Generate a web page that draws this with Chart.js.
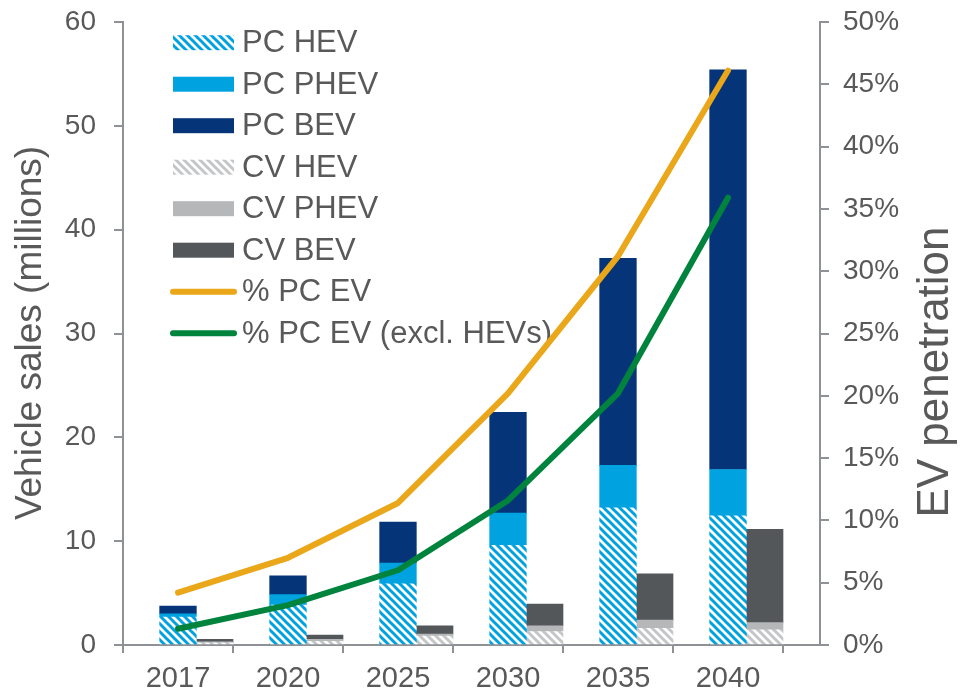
<!DOCTYPE html>
<html>
<head>
<meta charset="utf-8">
<script src="https://cdn.jsdelivr.net/npm/chart.js@4/dist/chart.umd.min.js"></script>
<style>
  body { margin: 0; background: #fff; }
</style>
</head>
<body>
<canvas id="evChart" width="961" height="696"></canvas>
<script>
// data
const years = ['2017', '2020', '2025', '2030', '2035', '2040'];
const pcHev  = [2.7, 3.85, 5.9, 9.6, 13.2, 12.45];
const pcPhev = [0.3, 1.0, 2.0, 3.1, 4.1, 4.45];
const pcBev  = [0.75, 1.8, 3.95, 9.7, 19.95, 38.5];
const cvHev  = [0.2, 0.35, 0.85, 1.3, 1.6, 1.45];
const cvPhev = [0.1, 0.2, 0.2, 0.55, 0.8, 0.7];
const cvBev  = [0.25, 0.4, 0.8, 2.1, 4.45, 9.0];
const pctPcEv     = [4.2, 7.0, 11.4, 20.2, 31.2, 46.1];
const pctPcEvExcl = [1.3, 3.2, 6.0, 11.6, 20.2, 35.9];
const spacer = [0, 0, 0, 0, 0, 0]; // empty stack so PC bars sit on the category centre

const textColor = '#595959';
const axisColor = '#8E9196';
const fontFamily = '"Liberation Sans", Arial, sans-serif';

// diagonal stripes for the HEV series
function hatch(color) {
    const c = document.createElement('canvas');
    c.width = 8;
    c.height = 8;
    const g = c.getContext('2d');
    g.fillStyle = '#fff';
    g.fillRect(0, 0, 8, 8);
    g.strokeStyle = color;
    g.lineWidth = 3;
    for (let k = -1; k <= 1; k++) {
        g.beginPath();
        g.moveTo(-1, k * 8 - 1);
        g.lineTo(9, k * 8 + 9);
        g.stroke();
    }
    return g.createPattern(c, 'repeat');
}

const ctx = document.getElementById('evChart').getContext('2d');

// x axis stops short of the right axis in the original
const shrinkX = {
    id: 'shrinkX',
    afterLayout(chart) {
        const x = chart.scales.x;
        x._length = (x.right - x.left) * 660 / 697;
        x._endPixel = x._startPixel + x._length;
    }
};

// legend down the left side and the two axis titles
const sideLegend = {
    id: 'sideLegend',
    beforeDatasetsDraw(chart) {
        const c = chart.ctx;
        c.save();
        c.font = '31px ' + fontFamily;
        c.textBaseline = 'middle';
        let i = 0;
        chart.data.datasets.forEach(ds => {
            if (!ds.label) return;
            const y = 42.7 + i * 41.5;
            if (ds.type === 'line') {
                c.strokeStyle = ds.borderColor;
                c.lineWidth = 6;
                c.lineCap = 'round';
                c.beginPath();
                c.moveTo(173, y);
                c.lineTo(234, y);
                c.stroke();
            } else {
                c.fillStyle = ds.backgroundColor;
                c.fillRect(173, y - 7.5, 61, 15);
            }
            c.fillStyle = textColor;
            c.fillText(ds.label, 242, y + 1);
            i++;
        });
        c.restore();
    },
    afterDraw(chart) {
        const c = chart.ctx;
        c.save();
        c.fillStyle = textColor;
        c.textAlign = 'center';
        c.textBaseline = 'middle';
        c.translate(31, 333);
        c.rotate(-Math.PI / 2);
        c.font = '37px ' + fontFamily;
        c.fillText('Vehicle sales (millions)', 0, 0);
        c.restore();
        c.save();
        c.fillStyle = textColor;
        c.textAlign = 'center';
        c.textBaseline = 'middle';
        c.translate(936, 372);
        c.rotate(-Math.PI / 2);
        c.font = '44px ' + fontFamily;
        c.fillText('EV penetration', 0, 0);
        c.restore();
    }
};

const barBase = { type: 'bar', yAxisID: 'y', order: 1, borderWidth: 0 };

function noPad(s) {
    s.paddingTop = 0;
    s.paddingBottom = 0;
}

new Chart(ctx, {
    data: {
        labels: years,
        datasets: [
            { ...barBase, label: '', data: spacer, stack: 'pad', backgroundColor: 'rgba(0,0,0,0)' },
            { ...barBase, label: 'PC HEV', data: pcHev, stack: 'pc', backgroundColor: hatch('#00A3E0') },
            { ...barBase, label: 'PC PHEV', data: pcPhev, stack: 'pc', backgroundColor: '#00A3E0' },
            { ...barBase, label: 'PC BEV', data: pcBev, stack: 'pc', backgroundColor: '#063478' },
            { ...barBase, label: 'CV HEV', data: cvHev, stack: 'cv', backgroundColor: hatch('#C4C6C8') },
            { ...barBase, label: 'CV PHEV', data: cvPhev, stack: 'cv', backgroundColor: '#B5B7B9' },
            { ...barBase, label: 'CV BEV', data: cvBev, stack: 'cv', backgroundColor: '#53575A' },
            {
                type: 'line', label: '% PC EV', data: pctPcEv, yAxisID: 'y1', order: 0,
                borderColor: '#E9A719', borderWidth: 6, pointRadius: 0,
                borderCapStyle: 'round', borderJoinStyle: 'round', tension: 0
            },
            {
                type: 'line', label: '% PC EV (excl. HEVs)', data: pctPcEvExcl, yAxisID: 'y1', order: 0,
                borderColor: '#00843D', borderWidth: 6, pointRadius: 0,
                borderCapStyle: 'round', borderJoinStyle: 'round', tension: 0
            }
        ]
    },
    options: {
        responsive: false,
        animation: false,
        devicePixelRatio: 1,
        layout: { padding: { top: 22 } },
        datasets: {
            bar: { categoryPercentage: 1.0, barPercentage: 1.0 }
        },
        plugins: {
            legend: { display: false },
            tooltip: { enabled: false }
        },
        scales: {
            x: {
                stacked: true,
                grid: { drawOnChartArea: false, tickLength: 8, color: axisColor, lineWidth: 2, offset: true },
                border: { color: axisColor, width: 2 },
                ticks: { color: textColor, font: { size: 29, family: fontFamily }, padding: 9, maxRotation: 0 },
                afterFit(s) { s.height = 51; s.paddingLeft = 0; s.paddingRight = 0; }
            },
            y: {
                stacked: true,
                position: 'left',
                min: 0,
                max: 60,
                ticks: { stepSize: 10, color: textColor, font: { size: 28, family: fontFamily }, padding: 18 },
                grid: { drawOnChartArea: false, tickLength: 9, color: axisColor, lineWidth: 2 },
                border: { color: axisColor, width: 2 },
                afterFit(s) { s.width = 123; noPad(s); }
            },
            y1: {
                position: 'right',
                min: 0,
                max: 50,
                ticks: {
                    stepSize: 5, color: textColor, font: { size: 28, family: fontFamily }, padding: 14,
                    callback: v => v + '%'
                },
                grid: { drawOnChartArea: false, tickLength: 9, color: axisColor, lineWidth: 2 },
                border: { color: axisColor, width: 2 },
                afterFit(s) { s.width = 141; noPad(s); }
            }
        }
    },
    plugins: [shrinkX, sideLegend]
});
</script>
</body>
</html>
